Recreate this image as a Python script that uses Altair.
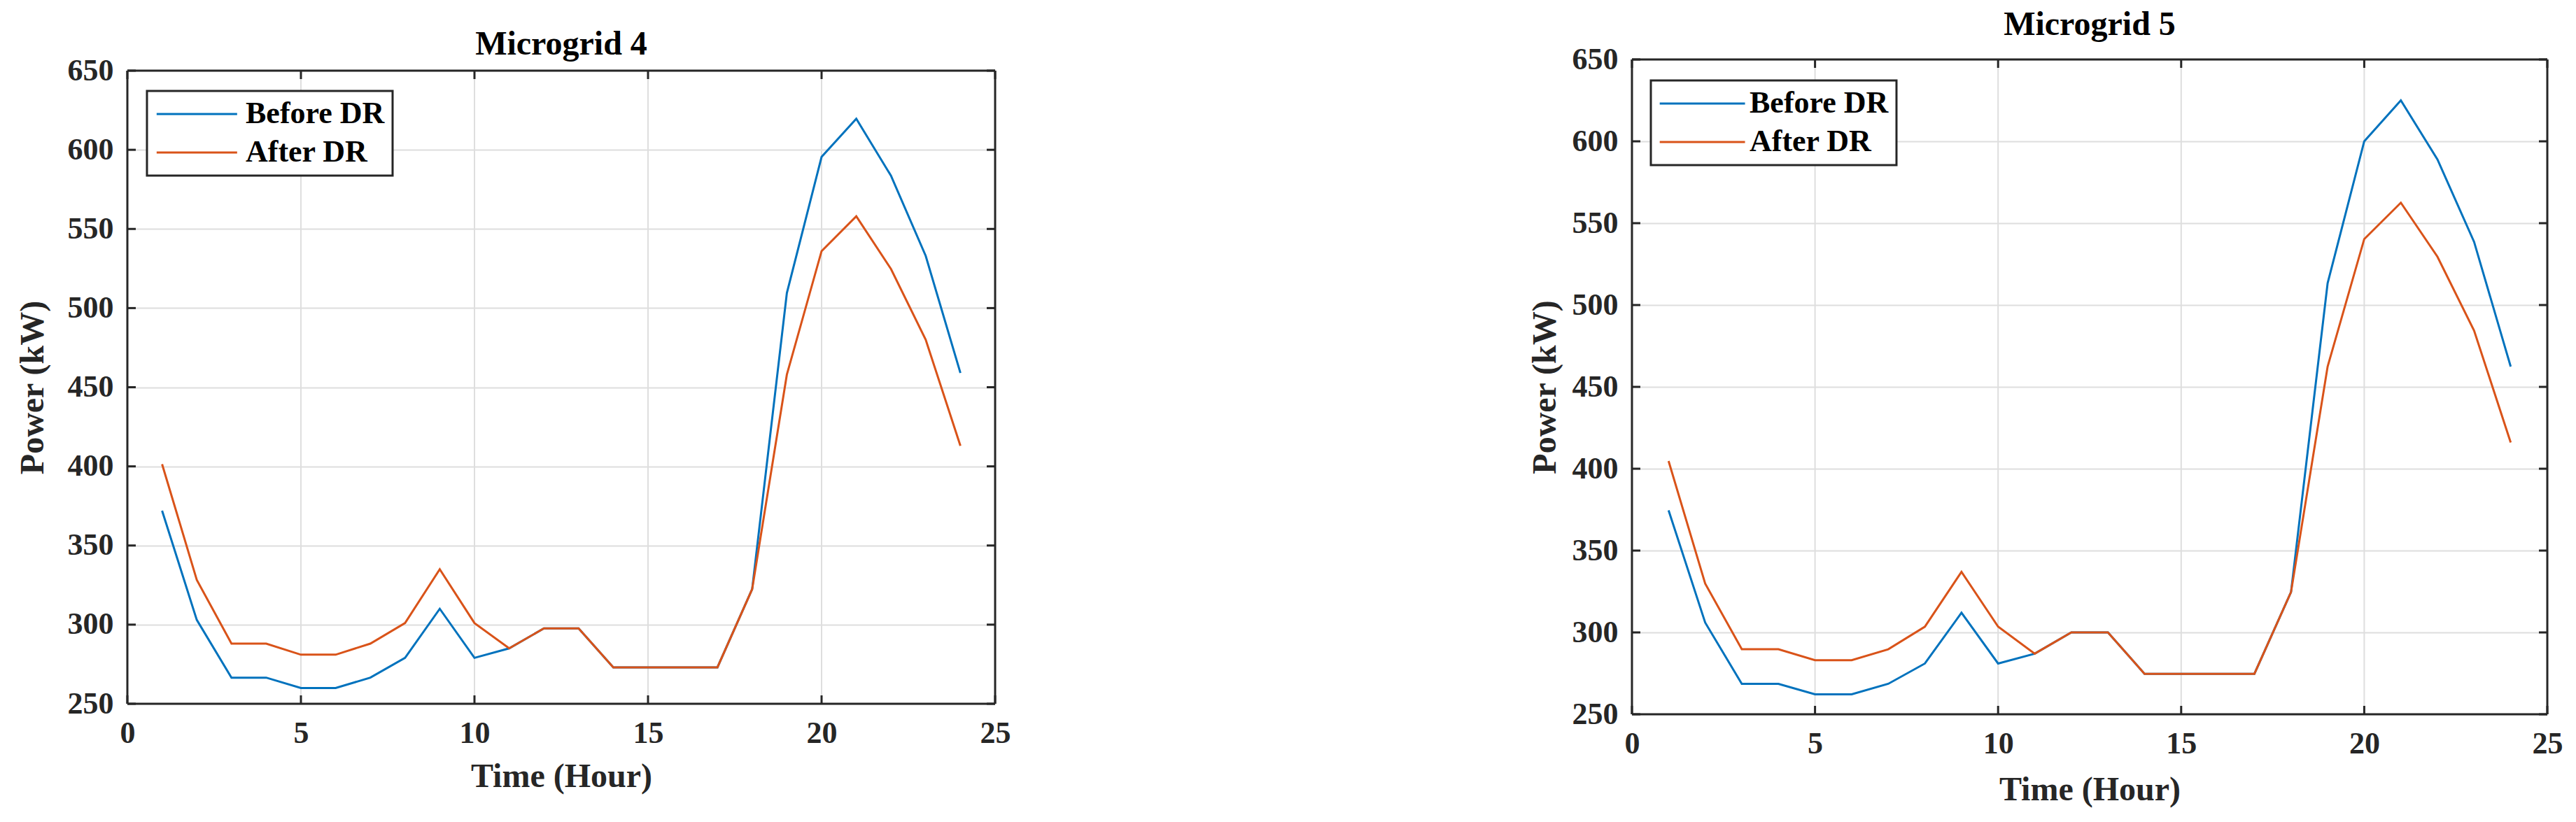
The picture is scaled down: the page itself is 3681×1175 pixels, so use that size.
import altair as alt
import pandas as pd

hours = list(range(1, 25))
series = ["Before DR", "After DR"]
colors = ["#0072BD", "#D95319"]
x_ticks = [0, 5, 10, 15, 20, 25]
x_grid = [5, 10, 15, 20]
y_ticks = [250, 300, 350, 400, 450, 500, 550, 600, 650]
x_lim = [0, 25]
y_lim = [250, 650]

mg4_before = [372, 303, 266.5, 266.5, 260, 260, 266.5, 279, 310, 279, 285, 297.6,
              297.6, 273, 273, 273, 273, 322.4, 509.5, 595.5, 619.6, 583.6, 533, 459]
mg4_after = [401.4, 328.3, 288, 288, 281, 281, 288, 301, 335, 301, 285, 297.6,
             297.6, 273, 273, 273, 273, 322.4, 458, 536, 558, 524.7, 480, 413]
mg5_before = [374.6, 306, 268.6, 268.6, 262.2, 262.2, 268.6, 281, 312, 281, 287, 300,
              300, 274.7, 274.7, 274.7, 274.7, 324.6, 513.3, 600, 625, 588.9, 538.6, 462.4]
mg5_after = [404.7, 329.8, 289.7, 289.7, 283, 283, 289.7, 303.5, 337, 303.5, 287, 300,
             300, 274.7, 274.7, 274.7, 274.7, 324.6, 462.4, 540.3, 562.5, 529.5, 484.4, 416]

FONT = "Liberation Serif"
AXC = "#262626"
GRID = "#dedede"


def panel(title, before, after, W, H, top, lx, ly, title_off, xtitle_pad, ytitle_pad, sym):
    df = pd.DataFrame({
        "Hour": hours * 2,
        "Power": before + after,
        "Series": [series[0]] * len(hours) + [series[1]] * len(hours),
    })
    xs = alt.Scale(domain=x_lim, nice=False, zero=False)
    ys = alt.Scale(domain=y_lim, nice=False, zero=False, range=[H, top])
    xax = alt.Axis(values=x_ticks, title="Time (Hour)", titlePadding=xtitle_pad, grid=False,
                   labelFlush=False)
    yax = alt.Axis(values=y_ticks, title="Power (kW)", titlePadding=ytitle_pad, grid=True,
                   labelFlush=False)

    def X(f):
        return alt.X(f + ":Q", scale=xs, axis=xax)

    def Y(f):
        return alt.Y(f + ":Q", scale=ys, axis=yax)

    xt = pd.DataFrame({"Hour": x_ticks})
    xg = pd.DataFrame({"Hour": x_grid, "lo": [y_lim[0]] * len(x_grid), "hi": [y_lim[1]] * len(x_grid)})
    yt = pd.DataFrame({"Power": y_ticks})
    frame = pd.DataFrame({
        "xa": [x_lim[0], x_lim[0], x_lim[0], x_lim[1]],
        "xb": [x_lim[1], x_lim[1], x_lim[0], x_lim[1]],
        "ya": [y_lim[0], y_lim[1], y_lim[0], y_lim[0]],
        "yb": [y_lim[0], y_lim[1], y_lim[1], y_lim[1]],
    })

    grid = alt.Chart(xg).mark_rule(color=GRID, strokeWidth=2).encode(
        x=X("Hour"), y=Y("lo"), y2="hi:Q")
    lines = alt.Chart(df).mark_line(strokeWidth=3, clip=True).encode(
        x=X("Hour"), y=Y("Power"),
        color=alt.Color("Series:N", scale=alt.Scale(domain=series, range=colors),
                        legend=alt.Legend(orient="none", legendX=lx, legendY=ly, title=None,
                                          symbolType="M-1,0L5,0", symbolSize=sym,
                                          symbolStrokeWidth=3, labelFont=FONT,
                                          labelFontSize=44, labelFontWeight="bold",
                                          labelColor="black", labelLimit=500,
                                          strokeColor=AXC, fillColor="white",
                                          padding=11, labelOffset=86, rowPadding=11)),
    )
    box = alt.Chart(frame).mark_rule(color=AXC, strokeWidth=3).encode(
        x=X("xa"), x2="xb:Q", y=Y("ya"), y2="yb:Q")
    tb = alt.Chart(xt).mark_rule(color=AXC, strokeWidth=3).encode(
        x=X("Hour"), y=alt.value(H - 12), y2=alt.value(H))
    tt = alt.Chart(xt).mark_rule(color=AXC, strokeWidth=3).encode(
        x=X("Hour"), y=alt.value(top), y2=alt.value(top + 12))
    tl = alt.Chart(yt).mark_rule(color=AXC, strokeWidth=3).encode(
        y=Y("Power"), x=alt.value(0), x2=alt.value(12))
    tr = alt.Chart(yt).mark_rule(color=AXC, strokeWidth=3).encode(
        y=Y("Power"), x=alt.value(W - 12), x2=alt.value(W))
    return alt.layer(grid, lines, box, tb, tt, tl, tr).properties(
        width=W, height=H,
        title=alt.TitleParams(title, font=FONT, fontSize=48, fontWeight="bold",
                              color="black", baseline="alphabetic", offset=title_off,
                              frame="group"),
    )


left = panel("Microgrid 4", mg4_before, mg4_after, 1240, 921, 16, 28, 45, -47, 16, 25, 1470)
right = panel("Microgrid 5", mg5_before, mg5_after, 1308, 936, 0, 27, 30, -35, 20, 14, 1650)

chart = alt.hconcat(left, right, spacing=738).resolve_scale(
    color="independent"
).resolve_legend(color="independent").properties(
    padding={"left": 14, "top": 3, "right": 5, "bottom": 5}
).configure_view(stroke="transparent").configure_axis(
    labelFont=FONT, labelFontSize=44, labelFontWeight="bold", labelColor=AXC,
    titleFont=FONT, titleFontSize=48, titleFontWeight="bold", titleColor=AXC,
    gridColor=GRID, gridWidth=2, domain=False, ticks=False,
    tickSize=0, labelPadding=20,
).configure_legend(strokeWidth=3)

chart.save("out.html", embed_options={"renderer": "svg", "actions": False})
